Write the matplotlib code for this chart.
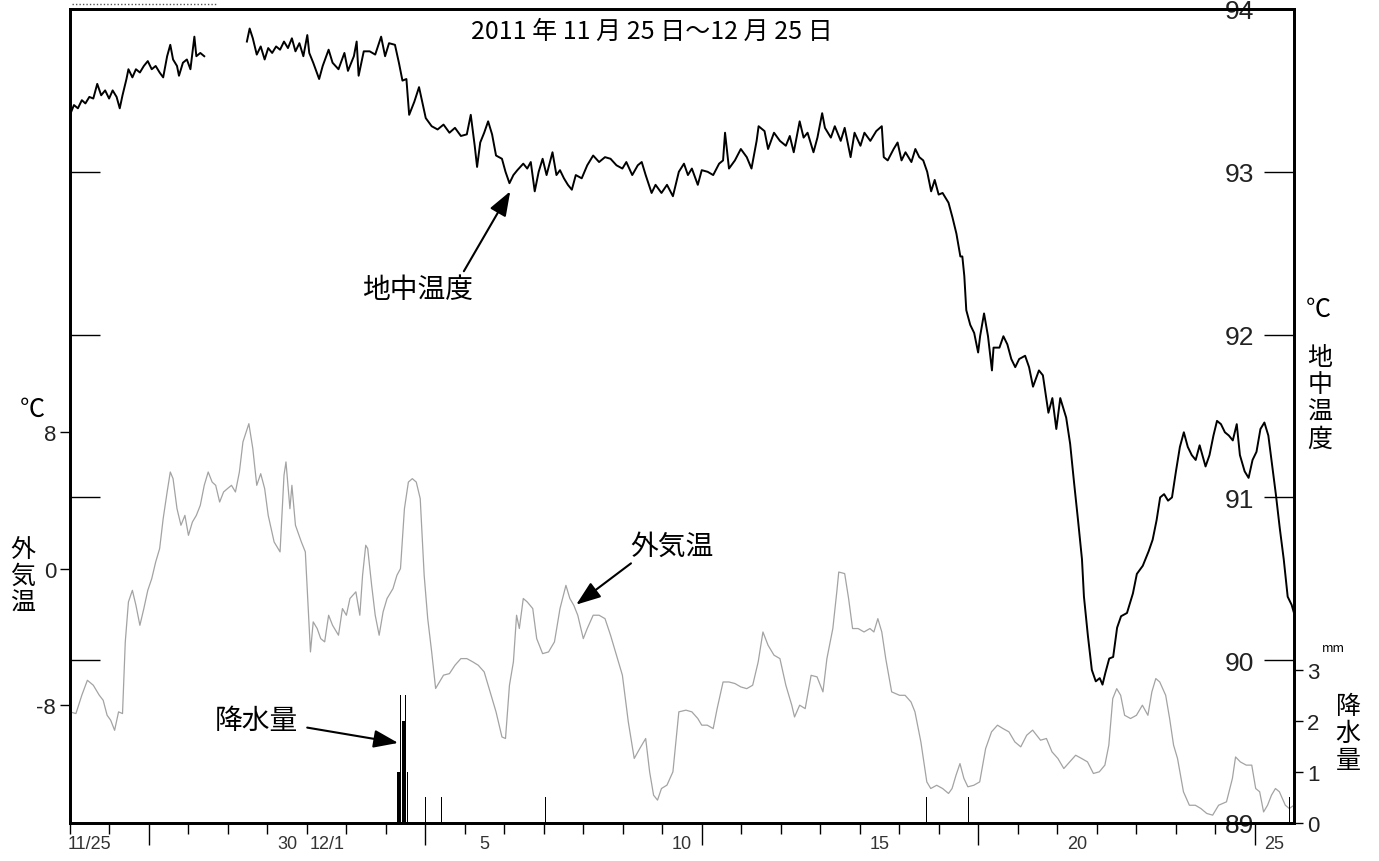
import numpy as np
import matplotlib.pyplot as plt
from matplotlib.lines import Line2D

plt.rcParams['font.family'] = ['Noto Sans CJK JP', 'DejaVu Sans']
plt.rcParams['axes.unicode_minus'] = False

# 地中温度 (右軸, ℃) : 日数 (11/25 0時 = 0)
chichu_hi = [
    0.00, 0.10, 0.20, 0.30, 0.39, 0.49, 0.59, 0.69, 0.79, 0.89, 0.99, 1.08, 1.18, 1.26, 1.33,
    1.43, 1.48, 1.58, 1.67, 1.77, 1.87, 1.97, 2.07, 2.17, 2.27, 2.36, 2.46, 2.54, 2.61, 2.71,
    2.76, 2.86, 2.96, 3.05, 3.15, 3.20, 3.30, 3.40, 3.90,
    4.48, 4.55, 4.63, 4.73, 4.83, 4.93, 5.02, 5.12, 5.22, 5.32, 5.42, 5.52, 5.62, 5.71, 5.81,
    5.91, 6.01, 6.06, 6.16, 6.31, 6.40, 6.55, 6.65, 6.80, 6.95, 7.04, 7.19, 7.26, 7.31, 7.44,
    7.59, 7.73, 7.88, 7.98, 8.08, 8.23, 8.33, 8.42, 8.52, 8.59, 8.72, 8.84, 8.92, 9.01, 9.16,
    9.31, 9.46, 9.61, 9.75, 9.90, 10.05, 10.15, 10.25, 10.31, 10.39, 10.49, 10.59, 10.69, 10.79,
    10.94, 11.03, 11.13, 11.23, 11.33, 11.48, 11.58, 11.67, 11.77, 11.87, 11.97, 12.07, 12.22,
    12.32, 12.41, 12.51, 12.61, 12.71, 12.81, 12.96, 13.10, 13.25, 13.40, 13.55, 13.69, 13.84,
    13.99, 14.09, 14.24, 14.38, 14.48, 14.58, 14.73, 14.83, 14.98, 15.12, 15.27, 15.42,
    15.55, 15.65, 15.75, 15.90, 16.00, 16.15, 16.29, 16.44, 16.54, 16.59, 16.69, 16.84, 16.99,
    17.14, 17.26, 17.39, 17.44, 17.59, 17.68, 17.83, 17.98, 18.13, 18.23, 18.33, 18.48, 18.58,
    18.68, 18.83, 18.93, 19.05, 19.12, 19.27, 19.37, 19.52, 19.62, 19.77, 19.87, 20.02, 20.12,
    20.27, 20.42, 20.56, 20.61, 20.71, 20.86, 20.96, 21.06, 21.16, 21.31, 21.41, 21.51, 21.61,
    21.71, 21.81, 21.90, 22.00, 22.10, 22.25, 22.35, 22.45, 22.55, 22.60, 22.65, 22.70, 22.80,
    22.90, 23.00, 23.05, 23.15, 23.25, 23.35, 23.39, 23.54, 23.64, 23.74, 23.84, 23.94, 24.04,
    24.19, 24.29, 24.39, 24.54, 24.64, 24.78, 24.88, 24.98, 25.08, 25.23, 25.33, 25.43, 25.53,
    25.63, 25.68, 25.78, 25.88, 25.98, 26.08, 26.15, 26.22, 26.32, 26.42, 26.52, 26.62, 26.77,
    26.92, 27.02, 27.17, 27.32, 27.42, 27.52, 27.61, 27.71, 27.81, 27.91, 28.01, 28.11, 28.21,
    28.31, 28.41, 28.51, 28.61, 28.76, 28.86, 28.96, 29.05, 29.15, 29.25, 29.35, 29.45, 29.55,
    29.63, 29.75, 29.85, 29.95, 30.05, 30.15, 30.25, 30.35, 30.45, 30.54, 30.64, 30.74, 30.84,
    30.94, 31.00,
]
chichu_ondo = [
    93.35, 93.41, 93.39, 93.44, 93.42, 93.46, 93.45, 93.54, 93.47, 93.50, 93.45, 93.50, 93.46, 93.39, 93.47,
    93.57, 93.63, 93.58, 93.63, 93.61, 93.65, 93.68, 93.63, 93.65, 93.61, 93.58, 93.71, 93.78, 93.69, 93.65,
    93.59, 93.67, 93.69, 93.63, 93.83, 93.71, 93.73, 93.71, np.nan,
    93.80, 93.88, 93.82, 93.72, 93.77, 93.69, 93.76, 93.73, 93.77, 93.75, 93.80, 93.76, 93.82, 93.74, 93.79,
    93.71, 93.84, 93.73, 93.67, 93.57, 93.65, 93.75, 93.67, 93.63, 93.73, 93.62, 93.71, 93.80, 93.59, 93.74,
    93.74, 93.72, 93.83, 93.71, 93.79, 93.78, 93.67, 93.56, 93.57, 93.35, 93.43, 93.52, 93.43, 93.33, 93.28,
    93.26, 93.29, 93.24, 93.27, 93.22, 93.23, 93.35, 93.16, 93.03, 93.18, 93.24, 93.31, 93.23, 93.10,
    93.08, 93.00, 92.93, 92.98, 93.01, 93.05, 93.02, 93.06, 92.88, 93.00, 93.08, 92.98, 93.12,
    92.98, 93.01, 92.96, 92.92, 92.89, 92.98, 92.96, 93.04, 93.10, 93.06, 93.09, 93.08, 93.04,
    93.02, 93.06, 92.98, 93.04, 93.06, 92.98, 92.87, 92.92, 92.87, 92.92, 92.85, 93.00,
    93.05, 92.98, 93.02, 92.92, 93.01, 93.00, 92.98, 93.05, 93.07, 93.24, 93.02, 93.07, 93.14,
    93.09, 93.02, 93.19, 93.28, 93.25, 93.14, 93.24, 93.19, 93.16, 93.22, 93.12, 93.31, 93.21,
    93.24, 93.12, 93.21, 93.36, 93.27, 93.21, 93.28, 93.19, 93.27, 93.09, 93.24, 93.16, 93.24,
    93.19, 93.25, 93.28, 93.09, 93.07, 93.14, 93.18, 93.07, 93.12, 93.06, 93.14, 93.09, 93.07,
    93.00, 92.88, 92.95, 92.86, 92.87, 92.81, 92.72, 92.62, 92.48, 92.48, 92.36, 92.15, 92.06,
    92.01, 91.89, 91.99, 92.13, 91.99, 91.78, 91.92, 91.92, 91.99, 91.94, 91.85, 91.80, 91.85,
    91.87, 91.80, 91.68, 91.78, 91.75, 91.52, 91.61, 91.42, 91.61, 91.49, 91.33, 91.09, 90.86,
    90.62, 90.39, 90.15, 89.94, 89.87, 89.89, 89.85, 89.92, 90.01, 90.02, 90.20, 90.27, 90.29,
    90.41, 90.53, 90.58, 90.67, 90.74, 90.86, 91.00, 91.02, 90.98, 91.00, 91.16, 91.31, 91.40,
    91.31, 91.26, 91.23, 91.32, 91.19, 91.26, 91.38, 91.47, 91.45, 91.40, 91.38, 91.35, 91.45,
    91.26, 91.16, 91.12, 91.23, 91.28, 91.42, 91.46, 91.38, 91.19, 91.02, 90.81, 90.62, 90.39,
    90.34, 90.29,
]

# 外気温 (左軸, ℃)
gaiki_hi = [
    0.00, 0.15, 0.30, 0.44, 0.59, 0.74, 0.84, 0.94, 1.03, 1.13, 1.23, 1.33, 1.40, 1.48, 1.58,
    1.67, 1.77, 1.87, 1.97, 2.07, 2.17, 2.27, 2.36, 2.46, 2.54, 2.61, 2.71, 2.81, 2.91, 3.00,
    3.10, 3.20, 3.30, 3.40, 3.50, 3.60, 3.69, 3.79, 3.89, 3.99, 4.09, 4.19, 4.29, 4.38, 4.53,
    4.63, 4.73, 4.83, 4.93, 5.02, 5.17, 5.32, 5.42, 5.47, 5.57, 5.62, 5.71, 5.86, 5.96, 6.03,
    6.09, 6.16, 6.26, 6.35, 6.45, 6.55, 6.65, 6.80, 6.90, 7.00, 7.09, 7.24, 7.34, 7.41, 7.49,
    7.54, 7.64, 7.73, 7.83, 7.93, 8.03, 8.18, 8.28, 8.37, 8.47, 8.57, 8.67, 8.77, 8.87, 8.97,
    9.06, 9.16, 9.26, 9.36, 9.46, 9.61, 9.75, 9.90, 10.05, 10.20, 10.34, 10.49, 10.64, 10.79,
    10.94, 11.03, 11.13, 11.23, 11.31, 11.38, 11.48, 11.58, 11.72, 11.82, 11.97, 12.12, 12.27,
    12.41, 12.56, 12.66, 12.76, 12.86, 13.00, 13.10, 13.25, 13.40, 13.55, 13.69, 13.84, 13.99,
    14.14, 14.29, 14.43, 14.58, 14.68, 14.78, 14.88, 14.98, 15.12, 15.27, 15.42,
    15.60, 15.75, 15.90, 16.00, 16.14, 16.29, 16.39, 16.54, 16.69, 16.84, 16.99, 17.14, 17.29,
    17.43, 17.55, 17.68, 17.83, 17.98, 18.13, 18.28, 18.35, 18.48, 18.62, 18.77, 18.92, 19.07,
    19.17, 19.32, 19.42, 19.47, 19.62, 19.72, 19.82, 19.96, 20.11, 20.26, 20.36, 20.46, 20.56,
    20.66, 20.81, 21.01, 21.15, 21.30, 21.40, 21.55, 21.70, 21.80, 21.95, 22.10, 22.25, 22.34,
    22.44, 22.54, 22.64, 22.74, 22.89, 23.04, 23.19, 23.34, 23.49, 23.63, 23.78, 23.93, 24.08,
    24.23, 24.38, 24.48, 24.58, 24.73, 24.87, 25.02, 25.17, 25.32, 25.47, 25.62, 25.77, 25.92,
    26.07, 26.21, 26.31, 26.41, 26.51, 26.61, 26.71, 26.86, 27.01, 27.16, 27.30, 27.40, 27.50,
    27.60, 27.75, 27.85, 27.95, 28.05, 28.20, 28.35, 28.50, 28.64, 28.79, 28.94, 29.09, 29.29,
    29.44, 29.52, 29.64, 29.79, 29.93, 30.03, 30.13, 30.23, 30.33, 30.43, 30.53, 30.63, 30.78,
    30.88, 31.00,
]
gaiki_ondo = [
    -8.39, -8.49, -7.41, -6.54, -6.83, -7.41, -7.71, -8.59, -8.88, -9.47, -8.39, -8.49, -4.29, -1.95, -1.27,
    -2.15, -3.32, -2.34, -1.27, -0.59, 0.39, 1.17, 2.93, 4.49, 5.66, 5.27, 3.51, 2.54, 3.12, 1.95,
    2.73, 3.12, 3.71, 4.88, 5.66, 5.07, 4.88, 3.90, 4.49, 4.69, 4.88, 4.49, 5.66, 7.42, 8.49,
    7.03, 4.88, 5.56, 4.69, 3.12, 1.56, 0.98, 5.47, 6.25, 3.51, 4.88, 2.54, 1.56, 0.98, -2.15,
    -4.88, -3.12, -3.51, -4.10, -4.29, -2.73, -3.32, -3.90, -2.34, -2.73, -1.75, -1.36, -2.73, -0.39, 1.37,
    1.17, -0.98, -2.73, -3.90, -2.53, -1.75, -1.17, -0.39, 0.00, 3.51, 5.07, 5.27, 5.07, 4.10, -0.39,
    -2.93, -4.88, -7.02, -6.63, -6.24, -6.15, -5.66, -5.27, -5.27, -5.46, -5.66, -6.05, -7.22, -8.39,
    -9.86, -9.95, -6.83, -5.46, -2.73, -3.51, -1.75, -1.95, -2.34, -4.10, -4.98, -4.88, -4.29,
    -2.34, -0.98, -1.75, -2.15, -2.73, -4.10, -3.51, -2.73, -2.73, -2.93, -3.90, -5.08, -6.24,
    -8.98, -11.12, -10.54, -9.95, -11.90, -13.27, -13.56, -12.88, -12.68, -11.90, -8.39,
    -8.29, -8.39, -8.78, -9.17, -9.17, -9.37, -8.20, -6.64, -6.64, -6.73, -6.93, -7.03, -6.83,
    -5.46, -3.71, -4.49, -5.07, -5.27, -6.83, -8.00, -8.69, -8.00, -8.20, -6.25, -6.34, -7.22,
    -5.27, -3.51, -1.37, -0.20, -0.29, -1.76, -3.51, -3.51, -3.71, -3.51, -3.71, -2.93, -3.71,
    -5.27, -7.22, -7.42, -7.42, -7.81, -8.39, -10.15, -12.49, -12.88, -12.69, -12.88, -13.17, -12.88,
    -12.10, -11.42, -12.29, -12.78, -12.69, -12.49, -10.54, -9.56, -9.17, -9.37, -9.56, -10.15, -10.44,
    -9.76, -9.46, -9.76, -10.05, -9.95, -10.73, -11.12, -11.71, -11.32, -10.93, -11.12, -11.32, -12.00,
    -11.90, -11.51, -10.34, -7.61, -7.03, -7.42, -8.59, -8.78, -8.59, -8.00, -8.59, -7.22, -6.44,
    -6.64, -7.42, -8.78, -10.34, -11.12, -13.07, -13.86, -13.86, -14.05, -14.34, -14.44, -13.86, -13.66,
    -12.29, -11.03, -11.32, -11.51, -11.51, -12.88, -13.07, -14.25, -13.86, -13.27, -12.88, -13.07, -13.86,
    -14.05, -13.86,
]

# 降水量 (mm, 1時間値)
kousui_hi = [8.292, 8.333, 8.375, 8.417, 8.458, 8.500, 8.542, 9.01, 9.41, 12.05, 21.70, 22.76, 30.88]
kousui_mm = [1.0, 1.0, 2.5, 2.0, 2.0, 2.5, 1.0, 0.5, 0.5, 0.5, 0.5, 0.5, 0.5]

# 日付目盛
hi_label_pos = [0.5, 5.5, 6.5, 10.5, 15.5, 20.5, 25.5, 30.5]
hi_label = ['11/25', '30', '12/1', '5', '10', '15', '20', '25']
nichiyou = [2, 9, 16, 23, 30]

W, H = 1379, 862
fig = plt.figure(figsize=(W / 100, H / 100), dpi=100)
ax = fig.add_axes([70 / W, 38 / H, 1224 / W, 814 / H])
ax2 = ax.twinx()
ax3 = ax.twinx()

ax.set_xlim(0, 31)
ax.set_ylim(89, 94)
ax2.set_ylim(-14.9, 32.78)
ax3.set_ylim(0, 15.96)

ax.plot(chichu_hi, chichu_ondo, color='black', lw=1.4)
ax2.plot(gaiki_hi, gaiki_ondo, color='#a3a3a3', lw=0.9)
ax3.bar(kousui_hi, kousui_mm, width=0.035, color='black', lw=0)

# 地中温度の目盛 (内側)
ax.set_yticks([89, 90, 91, 92, 93, 94])
ax.tick_params(axis='y', direction='in', length=21.6, width=1, left=True, right=True,
               labelleft=False, labelright=True, pad=-28.8, labelsize=19,
               labelcolor='#222222', labelfontfamily='Liberation Sans')
for t in ax.get_yticklabels():
    t.set_horizontalalignment('right')

# 外気温の目盛 (左)
ax2.yaxis.tick_left()
ax2.set_yticks([-8, 0, 8])
ax2.tick_params(axis='y', direction='out', length=7, width=1, pad=3, labelsize=16,
                labelcolor='#222222', labelfontfamily='Liberation Sans')

# 降水量の目盛 (右)
ax3.set_yticks([0, 1, 2, 3])
ax3.tick_params(axis='y', direction='out', length=6.5, width=1, pad=3, labelsize=16,
                labelcolor='#222222', labelfontfamily='Liberation Sans')

# 日付の目盛
ax.set_xticks(range(0, 31))
ax.set_xticks(hi_label_pos, hi_label, minor=True)
ax.tick_params(axis='x', which='major', direction='out', length=8, width=1, labelbottom=False)
ax.tick_params(axis='x', which='minor', length=0, pad=9, labelsize=13,
               labelcolor='#333333', labelfontfamily='Liberation Sans')
for d, tk in zip(range(0, 31), ax.xaxis.get_major_ticks()):
    if d in nichiyou:
        tk.tick1line.set_markersize(16)

for a in (ax, ax2, ax3):
    for s in a.spines.values():
        s.set_linewidth(1.8)

ax.text(0.475, 0.973, '2011 年 11 月 25 日～12 月 25 日', transform=ax.transAxes,
        ha='center', va='center', fontsize=18)

ya = '-|>,head_length=0.6,head_width=0.22'
ax.annotate('地中温度', xy=(11.15, 92.88), xytext=(8.81, 92.28), ha='center', va='center',
            fontsize=20, arrowprops=dict(arrowstyle=ya, color='black', lw=1.5,
                                         mutation_scale=25, relpos=(0.9, 1.0), shrinkA=0, shrinkB=0))
ax2.annotate('外気温', xy=(12.82, -2.11), xytext=(15.25, 1.35), ha='center', va='center',
             fontsize=20, arrowprops=dict(arrowstyle=ya, color='black', lw=1.5,
                                          mutation_scale=25, relpos=(0.05, 0.0), shrinkA=0, shrinkB=0))
ax3.annotate('降水量', xy=(8.31, 1.57), xytext=(4.71, 2.02), ha='center', va='center',
             fontsize=20, arrowprops=dict(arrowstyle=ya, color='black', lw=1.5,
                                          mutation_scale=25, relpos=(1.0, 0.3), shrinkA=5, shrinkB=0))

# 軸の見出し
fig.text(32 / W, 1 - 410 / H, '℃', ha='center', va='center', fontsize=18)
fig.text(23 / W, 1 - 577 / H, '外\n気\n温', ha='center', va='center', fontsize=18, linespacing=1.05)
fig.text(1318 / W, 1 - 310 / H, '℃', ha='center', va='center', fontsize=18)
fig.text(1320 / W, 1 - 399 / H, '地\n中\n温\n度', ha='center', va='center', fontsize=18, linespacing=1.05)
fig.text(1333 / W, 1 - 649 / H, 'mm', ha='center', va='center', fontsize=9)
fig.text(1348 / W, 1 - 734 / H, '降\n水\n量', ha='center', va='center', fontsize=18, linespacing=1.05)

fig.add_artist(Line2D([72 / W, 217 / W], [1 - 5 / H, 1 - 5 / H], color='#555555',
                      lw=1, ls=(0, (1, 1.5)), transform=fig.transFigure))

fig.savefig('out.png', dpi=100)
